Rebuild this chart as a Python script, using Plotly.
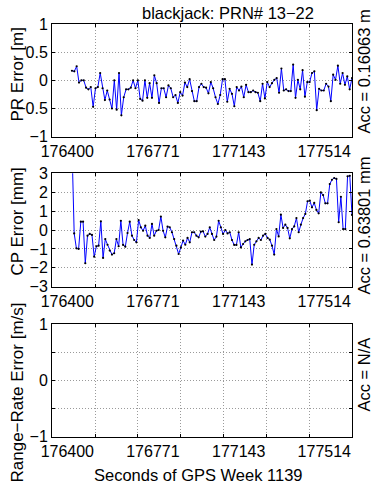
import numpy as np
import plotly.graph_objects as go

# ---- data ----
T_START = 176300.0
T_END = 177514.0

PR_ERR = [0.17, 0.16, 0.25, -0.04, 0.0, 0.0, -0.13, -0.16, -0.12, -0.47, -0.14, -0.12, 0.13, -0.14,
          -0.35, -0.18, -0.34, -0.50, 0.0, -0.52, 0.13, -0.62, -0.30, -0.16, -0.16, -0.13, 0.0, -0.14,
          0.0, -0.33, -0.36, 0.0, -0.31, -0.05, -0.31, 0.09, -0.05, -0.40, -0.14, -0.14, -0.30, -0.09,
          -0.14, -0.30, -0.26, -0.40, -0.21, -0.27, -0.04, -0.12, 0.02, -0.19, -0.37, -0.37, -0.12,
          -0.06, -0.12,
          -0.13, -0.23, -0.03, -0.14, -0.30, -0.42, -0.26, 0.02, 0.02, -0.38, -0.15, -0.24, -0.46,
          -0.12, -0.18, -0.11, -0.30, -0.08, -0.21, -0.21, -0.18, -0.21, -0.22, -0.37, -0.06, -0.32,
          -0.03, -0.12, -0.05, 0.01, 0.04, -0.22, 0.21, -0.18, -0.16, -0.19, -0.19, 0.28, -0.31, 0.01,
          -0.16, 0.18, -0.29, -0.03, -0.03, 0.13, 0.16, -0.53, -0.15, -0.18, -0.18, -0.06, -0.11,
          -0.37, 0.10, 0.01, 0.26, -0.06, 0.13, -0.08, 0.07, -0.16, 0.04]

CP_ERR = [4.5, -0.18, -0.97, -1.0, 0.44, 0.44, -1.76, -0.30, -0.21, -0.26, -1.41, -0.86, -0.83, 0.46,
          -1.48, -0.48, -0.78, -1.09, -1.30, -1.23, -0.48, -0.86, 0.49, -0.79, -0.88, -0.16, 0.44,
          -0.30, -0.53, -0.65, 0.53, 0.14, -0.04, 0.23, -0.30, -0.42, 0.32, -0.30, -0.04, 0.0, 0.71,
          -0.04, -0.39, 0.18, 0.14, -0.12, -0.48, -0.83, -1.27, -0.92, -0.56, -0.78, -0.42, -0.65,
          -0.12, -0.12, -0.30, -0.39, -0.09, -0.07, -0.35, -0.21,
          0.14, -0.21, -0.53, -0.35, 0.49, 0.14, -0.21, 0.0, -0.18, -0.12, -0.53, -0.79, -0.79, -0.12,
          -0.92, -0.74, -0.60, -0.53, -0.48, -1.83, -0.78, -0.60, -0.42, -0.53, -0.30, -0.21, -0.42,
          -0.51, -0.83, -1.30, 0.05, -0.34, 0.81, 0.11, 0.28, 0.11, -0.44, 0.05, 0.19, 0.63, -0.12,
          0.28, 0.63, 0.85, 1.52, 1.55, 1.20, 1.43, 1.06, 0.88, 1.99, 1.85, 1.41, 1.41, 2.43, 2.66,
          2.75, 2.70, 0.41, 1.76, 0.05, 0.05, 2.84, 2.87, 0.8]

X_RANGE = [176213.5, 177514.0]
XTICK_VALS = [176400, 176585.5, 176771, 176957, 177143, 177328.5, 177514]
XTICK_TEXT = ["176400", "", "176771", "", "177143", "", "177514"]

Y1_TICKS = [-1, -0.5, 0, 0.5, 1]
Y1_TEXT = ["\u22121", "\u22120.5", "0", "0.5", "1"]
Y2_TICKS = [-3, -2, -1, 0, 1, 2, 3]
Y2_TEXT = ["\u22123", "\u22122", "\u22121", "0", "1", "2", "3"]
Y3_TICKS = [-1, -0.5, 0, 0.5, 1]
Y3_TEXT = ["\u22121", "", "0", "", "1"]

TITLE = "blackjack: PRN# 13\u221222"
XLABEL = "Seconds of GPS Week 1139"
YLABELS = ["PR Error [m]", "CP Error [mm]", "Range\u2212Rate Error [m/s]"]
ACC_TEXT = ["Acc = 0.16063 m", "Acc = 0.63801 mm", "Acc = N/A"]

# ---- figure ----
W, H = 373, 489
FONT = "Liberation Sans, Arial, Helvetica, sans-serif"

t_pr = np.linspace(T_START, T_END, len(PR_ERR))
t_cp = np.linspace(T_START, T_END, len(CP_ERR))

fig = go.Figure()

def add_series(t, v, xa, ya):
    fig.add_trace(go.Scatter(x=t, y=v, xaxis=xa, yaxis=ya, mode="lines",
                             line=dict(color="#0000ff", width=1), showlegend=False,
                             hoverinfo="skip"))
    fig.add_trace(go.Scatter(x=t, y=v, xaxis=xa, yaxis=ya, mode="markers",
                             marker=dict(color="black", size=2.2), showlegend=False,
                             hoverinfo="skip"))

add_series(t_pr, PR_ERR, "x", "y")
add_series(t_cp, CP_ERR, "x2", "y2")
# empty range-rate panel
fig.add_trace(go.Scatter(x=[None], y=[None], xaxis="x3", yaxis="y3", mode="lines",
                         showlegend=False))

# plot areas in pixels (top, bottom)
left, right = 52, 352
panels = [(24, 136.7), (173.3, 286.7), (324, 436.7)]

common_axis = dict(showline=True, linecolor="black", linewidth=1, mirror="allticks",
                   ticks="inside", ticklen=3, tickcolor="black",
                   showgrid=True, gridcolor="#9a9a9a", griddash="1px,2px", gridwidth=1,
                   zeroline=False, tickfont=dict(family=FONT, size=16, color="black"),
                   automargin=False, fixedrange=True)

yt = [(Y1_TICKS, Y1_TEXT, [-1, 1]), (Y2_TICKS, Y2_TEXT, [-3, 3]), (Y3_TICKS, Y3_TEXT, [-1, 1])]
layout = {}
for i, (top, bot) in enumerate(panels):
    sfx = "" if i == 0 else str(i + 1)
    layout["xaxis" + sfx] = dict(common_axis, domain=[left / W, right / W], range=X_RANGE,
                                 tickmode="array", tickvals=XTICK_VALS, ticktext=XTICK_TEXT,
                                 ticklabelposition="outside left",
                                 anchor="y" + sfx)
    tv, tt, rg = yt[i]
    layout["yaxis" + sfx] = dict(common_axis, domain=[1 - bot / H, 1 - top / H], range=rg,
                                 tickmode="array", tickvals=tv, ticktext=tt,
                                 anchor="x" + sfx)

fig.update_layout(**layout)

ann = []
ann.append(dict(text=TITLE, x=228 / W, y=1 - 13.5 / H, xref="paper", yref="paper",
                showarrow=False, xanchor="center", yanchor="middle",
                font=dict(family=FONT, size=16.5, color="black")))
ann.append(dict(text=XLABEL, x=198 / W, y=1 - 475 / H, xref="paper", yref="paper",
                showarrow=False, xanchor="center", yanchor="middle",
                font=dict(family=FONT, size=16.5, color="black")))
ylab_centers = [75, 222, 393]
acc_centers = [72, 226, 375]
for i in range(3):
    ann.append(dict(text=YLABELS[i], x=16.5 / W, y=1 - ylab_centers[i] / H, xref="paper",
                    yref="paper", showarrow=False, textangle=-90, xanchor="center",
                    yanchor="middle", font=dict(family=FONT, size=17, color="black")))
    ann.append(dict(text=ACC_TEXT[i], x=363.5 / W, y=1 - acc_centers[i] / H, xref="paper",
                    yref="paper", showarrow=False, textangle=-90, xanchor="center",
                    yanchor="middle", font=dict(family=FONT, size=16.5, color="black")))

fig.update_layout(width=W, height=H, margin=dict(l=0, r=0, t=0, b=0),
                  paper_bgcolor="white", plot_bgcolor="white", annotations=ann,
                  showlegend=False)

fig.write_html("out.html", config={"displayModeBar": False},
               post_script="document.body.style.margin='0';document.body.style.padding='0';"
                           "document.documentElement.style.overflow='hidden';")
